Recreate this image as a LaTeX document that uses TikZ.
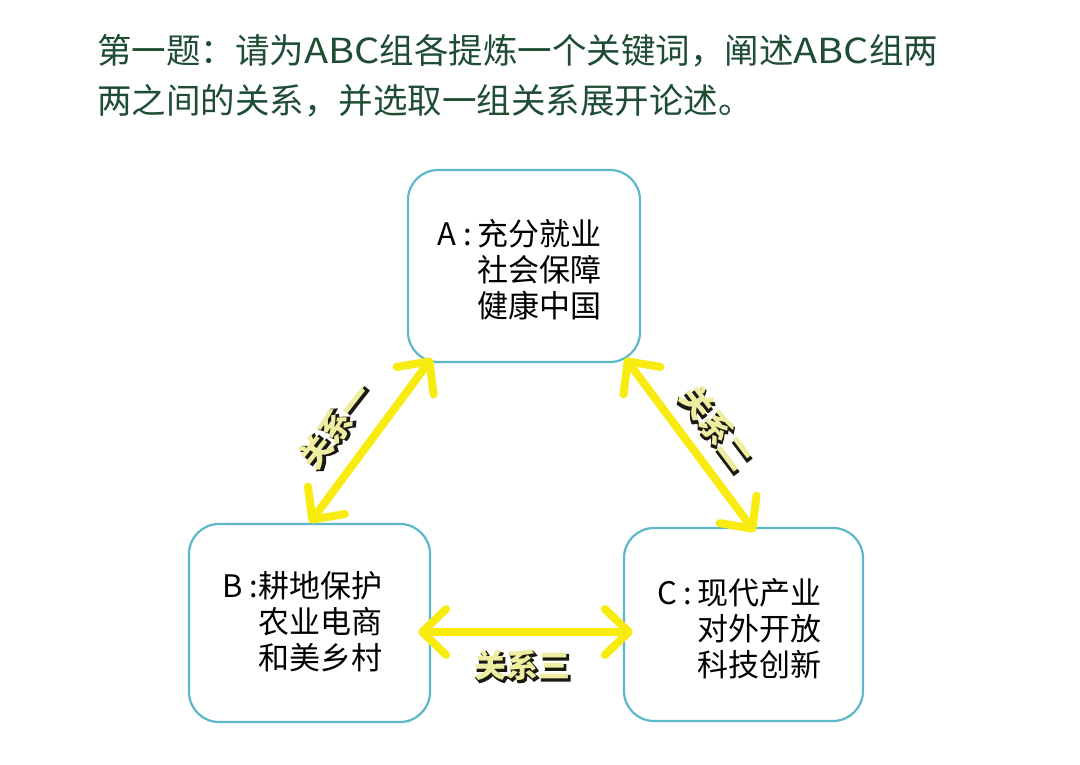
\documentclass[tikz,border=0pt]{standalone}
\usepackage{fontspec}
\usepackage{graphicx}
\setmainfont{Noto Sans CJK SC}
\newfontfamily\lblshadow[FakeBold=6]{Noto Sans CJK SC}
\newfontfamily\lblface{Noto Sans CJK SC}
\usetikzlibrary{arrows.meta}
\definecolor{titlegreen}{HTML}{1F4D33}
\definecolor{boxline}{HTML}{5DB9C9}
\definecolor{arrowyel}{HTML}{F8EB10}
\definecolor{lblfill}{HTML}{EEEDA2}
\definecolor{lblshade}{HTML}{1A1A10}
\newcommand\outl[1]{\leavevmode
  \rlap{\lblshadow\bfseries\color{lblshade}\hspace{1.8pt}\raisebox{-1.8pt}{#1}}%
  {\lblface\bfseries\color{lblfill}#1}}
\newcommand\pre[2]{\makebox[#2][l]{#1\hspace{7pt}:}}
\newcommand\wabc{\scalebox{1.15}[1]{ABC}}
\begin{document}
\begin{tikzpicture}[x=1pt,y=-1pt,
  titletext/.style={anchor=base west, inner sep=0pt, text=titlegreen, font=\fontsize{34.5}{50}\selectfont},
  groupbox/.style={draw=boxline, line width=2.2pt, rounded corners=30pt, fill=white},
  grouptext/.style={anchor=base west, inner sep=0pt, text=black, font=\fontsize{31}{33}\selectfont},
  relarrow/.style={draw=arrowyel, line width=8pt, line cap=round,
    {Straight Barb[length=24pt,width=46pt,round]}-{Straight Barb[length=24pt,width=46pt,round]}},
  rellabel/.style={inner sep=0pt, font=\fontsize{32}{36}\selectfont}]
\useasboundingbox[fill=white] (0,0) rectangle (1080,764);
% title
\node[titletext] (t1) at (97,63) {第一题：请为\wabc 组各提炼一个关键词，阐述\wabc 组两};
\node[titletext] (t2) at (97,113) {两之间的关系，并选取一组关系展开论述。};
% boxes
\draw[groupbox] (408,170) rectangle (640,362);
\node[inner sep=0pt, minimum width=232pt, minimum height=192pt] (A) at (524,266) {};
\draw[groupbox] (189,524) rectangle (430,722);
\node[inner sep=0pt, minimum width=241pt, minimum height=198pt] (B) at (309.5,623) {};
\draw[groupbox] (624,528) rectangle (863,721);
\node[inner sep=0pt, minimum width=239pt, minimum height=193pt] (C) at (743.5,624.5) {};
% box texts
\node[grouptext] (At) at (437,245) {\begin{tabular}[t]{@{}l@{}l@{}}\pre{A}{40pt}&充分就业\\&社会保障\\&健康中国\end{tabular}};
\node[grouptext] (Bt) at (222,597) {\begin{tabular}[t]{@{}l@{}l@{}}\pre{B}{36pt}&耕地保护\\&农业电商\\&和美乡村\end{tabular}};
\node[grouptext] (Ct) at (657,604) {\begin{tabular}[t]{@{}l@{}l@{}}\pre{C}{40pt}&现代产业\\&对外开放\\&科技创新\end{tabular}};
% arrow ends
\coordinate (a1t) at ([shift={(24,-4)}]A.south west);
\coordinate (a1b) at ([shift={(121,-1)}]B.north west);
\coordinate (a2t) at ([shift={(-15,-4)}]A.south east);
\coordinate (a2b) at ([shift={(131,4)}]C.north west);
\coordinate (a3l) at ([shift={(-12,9)}]B.east);
\coordinate (a3r) at ([shift={(9,7.5)}]C.west);
\draw[relarrow] (a1b) -- (a1t);
\draw[relarrow] (a2t) -- (a2b);
\draw[relarrow] (a3l) -- (a3r);
% labels
\node[rellabel, rotate=52] (l1) at (336,427) {\outl{关系一}};
\node[rellabel, rotate=-53] (l2) at (716,428) {\outl{关系二}};
\node[rellabel] (l3) at (522,666) {\outl{关系三}};
\end{tikzpicture}
\end{document}
